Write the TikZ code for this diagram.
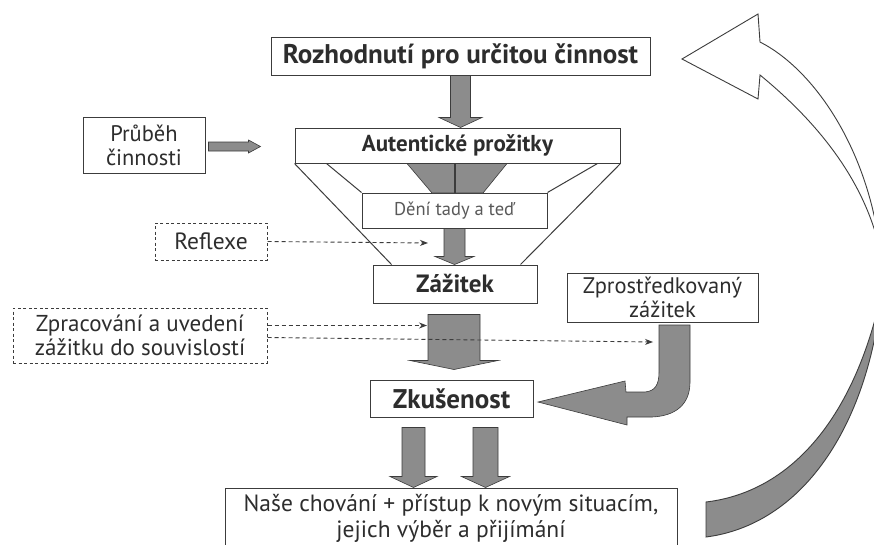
\documentclass[tikz,border=0pt]{standalone}
\usepackage{fontspec}
\setmainfont{PT Sans}
\usepackage{tikz}
\usetikzlibrary{calc}
\usetikzlibrary{arrows.meta}

\definecolor{arrowgray}{RGB}{140,140,140}
\definecolor{linegray}{RGB}{60,60,60}
\definecolor{textgray}{RGB}{45,45,45}

% block arrow pointing down: start, end, half shaft, half head, head length
\newcommand{\blockdown}[5]{%
  \filldraw[block arrow] let \p1=(#1), \p2=(#2) in
    (\x1-#3pt,\y1) -- (\x1+#3pt,\y1) -- (\x1+#3pt,\y2+#5pt) -- (\x1+#4pt,\y2+#5pt)
    -- (\x1,\y2) -- (\x1-#4pt,\y2+#5pt) -- (\x1-#3pt,\y2+#5pt) -- cycle;}
% block arrow pointing right
\newcommand{\blockright}[5]{%
  \filldraw[block arrow] let \p1=(#1), \p2=(#2) in
    (\x1,\y1+#3pt) -- (\x2-#5pt,\y1+#3pt) -- (\x2-#5pt,\y1+#4pt) -- (\x2,\y1)
    -- (\x2-#5pt,\y1-#4pt) -- (\x2-#5pt,\y1-#3pt) -- (\x1,\y1-#3pt) -- cycle;}
\newcommand{\fsz}[1]{\fontsize{#1}{1.07\dimexpr#1pt\relax}\selectfont}

\begin{document}
\begin{tikzpicture}[x=1pt,y=-1pt]

\tikzset{box/.style={draw=linegray, line width=1pt, fill=white, text=textgray,
    inner sep=0pt, align=center, font=\fsz{23}},
  box size/.style 2 args={minimum width=#1pt, minimum height=#2pt},
  bold box/.style={box, font=\fsz{25}\bfseries},
  dashed box/.style={box, dash pattern=on 3pt off 2.5pt},
  block arrow/.style={fill=arrowgray, draw=linegray, line width=0.6pt},
  dash arrow/.style={draw=linegray, line width=0.9pt, dash pattern=on 4pt off 3pt,
    -{Stealth[length=8pt,width=6pt]}}
}

\useasboundingbox (0,0) rectangle (874,544);
\fill[white] (0,0) rectangle (874,544);
\clip (0,0) rectangle (874,544);

% boxes
\node[bold box, box size={379}{38}, font=\fsz{27}\bfseries] (decision) at (460.5,56) {Rozhodnutí pro určitou činnost};
\node[bold box, box size={325}{35}, font=\fsz{23}\bfseries] (authentic) at (457.5,145.5) {Autentické prožitky};
\node[box, box size={122}{56}, font=\fsz{22.5}] (course) at (144,145) {Průběh\\činnosti};
\node[box, box size={185}{35}, text=black!65, font=\fsz{18.5}] (herenow) at (454.5,210.5) {Dění tady a teď};
\node[bold box, box size={164}{38}] (event) at (455,284) {Zážitek};
\node[dashed box, box size={112}{37}, font=\fsz{23.5}] (reflex) at (211,241.5) {Reflexe};
\node[dashed box, box size={254}{55}] (process) at (140,335.5) {Zpracování a uvedení\\zážitku do souvislostí};
\node[box, box size={191}{49}, font=\fsz{22.5}] (mediated) at (662.5,297.5) {Zprostředkovaný\\zážitek};
\node[bold box, box size={163}{37}, font=\fsz{27}\bfseries] (experience) at (451.5,398.5) {Zkušenost};
\node[box, box size={452}{60}, font=\fontsize{23.5}{26}\selectfont] (behaviour) at (451,518) {Naše chování + přístup k novým situacím,\\jejich výběr a přijímání};

% funnel
\draw[linegray, line width=1pt] (authentic.south west) -- ($(event.north west)+(19,0)$);
\draw[linegray, line width=1pt] (authentic.south east) -- ($(event.north east)+(-17,0)$);
\draw[linegray, line width=1pt] ($(authentic.south west)+(32,0)$) -- (herenow.north west);
\draw[linegray, line width=1pt] ($(authentic.south east)+(-23,0)$) -- (herenow.north east);
\filldraw[block arrow] (407,163.5) -- (507,163.5) -- (483,193) -- (432,193) -- cycle;
\draw[linegray, line width=1.2pt] (455,163.5) -- (455,193);

% block arrows
\blockdown{decision.south}{authentic.north}{10}{21.5}{10}
\blockright{$(course.east)+(3,1.5)$}{$(course.east)+(55,1.5)$}{4.5}{6.5}{12}
\blockdown{herenow.south}{event.north}{10.5}{19.5}{8}
\blockdown{$(event.south)+(-1,11)$}{$(event.south)+(-1,66)$}{26}{44}{9}
\blockdown{$(experience.south)+(-38,10)$}{$(behaviour.north)+(0,0)$}{11.5}{23.5}{11}
\blockdown{$(experience.south)+(34,10)$}{$(behaviour.north)+(0,0)$}{12.5}{24}{11}

% bent arrow from mediated experience
\filldraw[block arrow] (659,325) -- (690,325) -- (690,382)
  .. controls (690,405) and (675,416) .. (652,417) -- (627,417) -- (627,425)
  -- (538,402) -- (625,381) -- (626,392) -- (645,392)
  .. controls (655,391) and (659,385) .. (659,372) -- cycle;

% dashed connectors
\draw[dash arrow] (reflex.east) -- (428,243);
\draw[dash arrow] ($(process.east)+(0,-10)$) -- (427,325.5);
\draw[dash arrow] ($(process.east)+(0,2)$) -- (653,342);

% large return arrow
\filldraw[fill=white, draw=linegray, line width=0.9pt] (682,59) -- (758,14) -- (760,42)
  .. controls (815,70) and (868,150) .. (880,250)
  .. controls (862,170) and (805,112) .. (760,75) -- (758,99) -- cycle;
\filldraw[block arrow, line width=0.9pt] (706,537)
  .. controls (800,525) and (868,430) .. (882,290)
  -- (880,300) .. controls (852,420) and (790,492) .. (706,502) -- cycle;

\end{tikzpicture}
\end{document}
